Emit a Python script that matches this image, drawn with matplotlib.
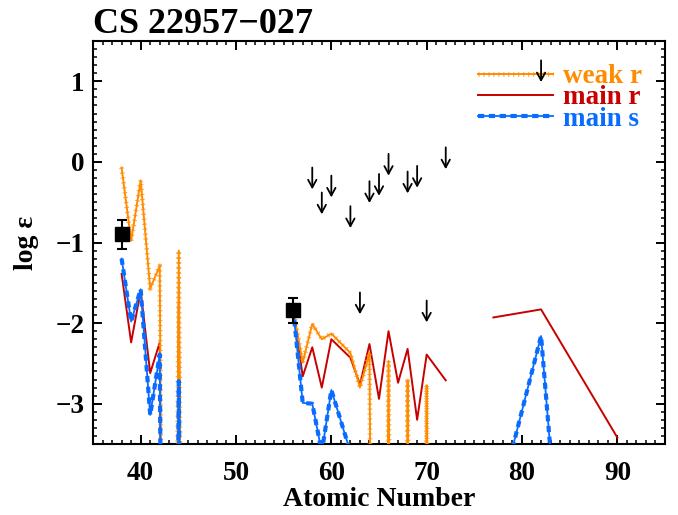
import numpy as np
import matplotlib
matplotlib.use("Agg")
import matplotlib.pyplot as plt
from matplotlib.legend_handler import HandlerTuple

nan = np.nan

# ---- abundance patterns (log eps vs Z), nan = break in the curve ----
weak_r_z = [38, 39, 40, 41, 42, 43, 44, 45, 46,
            56, 57, 58, 59, 60, 62, 63, 64, 65, 66, 67, 68, 69, 70, 71]
weak_r = [-0.07, -0.98, -0.23, -1.57, -1.29, -20, -1.10, -20, nan,
          -1.83, -2.49, -2.01, -2.20, -2.13, -2.37, -2.80, -2.37, -20, -2.47, -20, -2.72, -20, -2.77, -20]

main_r_z = [38, 39, 40, 41, 42, 43, 44, 45, 46,
            56, 57, 58, 59, 60, 62, 63, 64, 65, 66, 67, 68, 69, 70, 72, 73,
            77, 82, 90]
main_r = [-1.39, -2.24, -1.60, -2.62, -2.24, -20, -1.75, -20, nan,
          -1.83, -2.66, -2.30, -2.80, -2.20, -2.43, -2.76, -2.26, -2.94, -2.10, -2.74, -2.32, -3.20, -2.39, -2.71, nan,
          -1.93, -1.83, -3.42]

main_s_z = [38, 39, 40, 41, 42, 43, 44, 45, 46,
            56, 57, 58, 59, 60, 62, 63,
            79, 82, 83]
main_s = [-1.20, -1.98, -1.58, -3.14, -2.39, -20, -2.72, -20, nan,
          -1.83, -2.99, -3.00, -3.60, -2.83, -3.60, nan,
          -3.55, -2.16, -3.60]

# ---- observations ----
obs_z = [38, 56]
obs_val = [-0.90, -1.84]
obs_err = [0.18, 0.155]

# upper limits (arrow start)
lim_z = [58, 59, 60, 62, 63, 64, 65, 66, 68, 69, 70, 72, 82]
lim_val = [-0.07, -0.38, -0.17, -0.55, -1.62, -0.24, -0.15, 0.10, -0.12, -0.05, -1.72, 0.18, 1.26]
arrow_len = 0.27

c_weak = "#ff8c00"
c_mainr = "#c80000"
c_mains = "#0a6cff"

plt.rcParams["font.family"] = ["Liberation Serif", "DejaVu Serif"]
plt.rcParams["font.weight"] = "bold"
plt.rcParams["axes.linewidth"] = 1.5

fig = plt.figure(figsize=(6.78, 5.15), dpi=100)
ax = fig.add_axes([93 / 678, 1 - 444 / 515, 572 / 678, 403 / 515])

# main r
r_line, = ax.plot(main_r_z, main_r, color=c_mainr, lw=1.4, zorder=2)

# weak r: thin line + small ticks along it
w_tick, = ax.plot(weak_r_z, weak_r, color=c_weak, lw=3.4, alpha=0.75,
                  dashes=(0.25, 0.8), dash_capstyle="butt", zorder=3)
w_line, = ax.plot(weak_r_z, weak_r, color=c_weak, lw=1.4, zorder=3)

# main s: thin line + thick dashes
s_line, = ax.plot(main_s_z, main_s, color=c_mains, lw=1.3, zorder=4)
s_dash, = ax.plot(main_s_z, main_s, color=c_mains, lw=3.0,
                  dashes=(1.5, 1.1), dash_capstyle="butt", zorder=4)

# observed points
ax.errorbar(obs_z, obs_val, yerr=obs_err, fmt="s", color="black", ms=9.5,
            capsize=3.5, elinewidth=1.5, capthick=1.5, zorder=6)

# upper limits
for z, v in zip(lim_z, lim_val):
    ax.annotate("", xy=(z, v - arrow_len), xytext=(z, v),
                arrowprops=dict(arrowstyle="->,head_length=0.55,head_width=0.3",
                                color="black", lw=1.3, mutation_scale=10,
                                shrinkA=0, shrinkB=0), zorder=7)

ax.set_xlim(35, 95)
ax.set_ylim(-3.5, 1.5)
ax.set_xticks([40, 50, 60, 70, 80, 90])
ax.set_xticks(np.arange(35, 96, 1), minor=True)
ax.set_yticks([-3, -2, -1, 0, 1])
ax.set_yticks(np.arange(-3.5, 1.51, 0.1), minor=True)
ax.tick_params(which="both", direction="in", top=True, right=True, labelsize=19.5)
ax.tick_params(which="major", length=6.5, width=1.4)
ax.tick_params(which="minor", length=3.2, width=1.1)
ax.tick_params(axis="x", pad=12)
ax.tick_params(axis="y", pad=6)

ax.set_xlabel("Atomic Number", fontsize=20, fontweight="bold", labelpad=1)
ax.set_ylabel("log ε", fontsize=20, fontweight="bold", labelpad=12)
ax.set_title("CS 22957\u2212027", loc="left", fontsize=26, fontweight="bold", pad=6)

leg = ax.legend([(w_tick, w_line), r_line, (s_line, s_dash)],
                ["weak r", "main r", "main s"],
                handler_map={tuple: HandlerTuple(ndivide=1)},
                loc="upper right", frameon=False,
                prop={"size": 19.5, "weight": "bold"},
                handlelength=2.8, handletextpad=0.35, labelspacing=-0.13,
                borderaxespad=0.55, borderpad=0.3)
for t, c in zip(leg.get_texts(), [c_weak, c_mainr, c_mains]):
    t.set_color(c)

fig.savefig("out.png", dpi=100)
